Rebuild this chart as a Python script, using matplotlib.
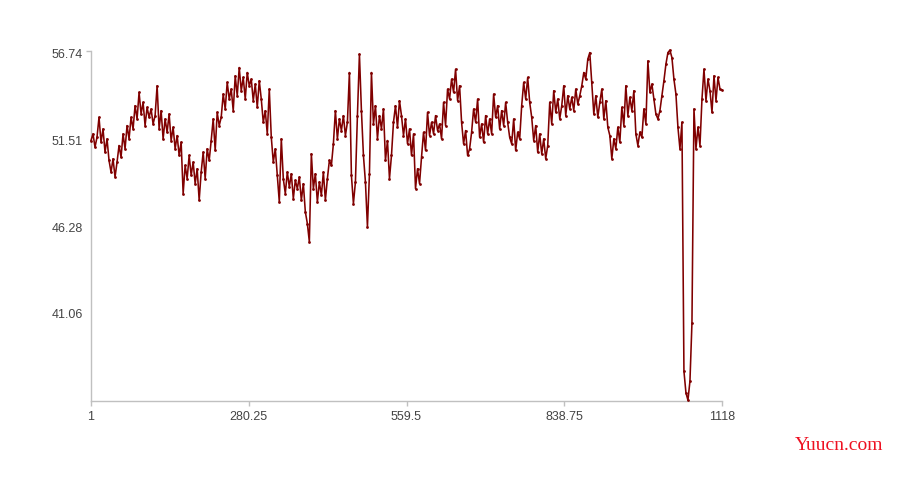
import numpy as np
import matplotlib
matplotlib.use("Agg")
import matplotlib.pyplot as plt

values = [
    51.5, 51.9, 51.1, 51.7, 52.9,
    51.4, 52.2, 50.8, 51.6, 50.3,
    49.6, 50.4, 49.3, 50.2, 51.2,
    50.5, 51.9, 51.0, 52.4, 51.6,
    52.9, 52.2, 53.6, 52.8, 54.4,
    53.1, 53.8, 52.4, 53.5, 52.9,
    53.4, 52.5, 53.0, 54.8, 52.2,
    53.3, 51.6, 52.8, 52.0, 53.1,
    51.5, 52.3, 51.0, 51.8, 50.6,
    51.4, 48.3, 50.0, 49.2, 50.6,
    49.4, 50.2, 48.9, 49.8, 47.9,
    49.6, 50.8, 49.2, 51.0, 50.3,
    51.5, 52.8, 50.9, 53.2, 52.4,
    52.9, 54.3, 53.4, 55.0, 54.0,
    54.6, 53.3, 55.4, 54.2, 55.9,
    54.5, 55.3, 54.0, 55.6, 54.8,
    55.2, 53.9, 54.9, 53.5, 55.1,
    54.0, 52.6, 53.3, 51.9, 54.6,
    51.7, 50.2, 51.0, 49.4, 47.8,
    51.6, 49.2, 48.3, 49.6, 48.7,
    49.5, 48.0, 49.1, 48.6, 49.3,
    47.9, 48.9, 47.2, 46.5, 45.4,
    50.7, 48.6, 49.5, 47.8, 49.0,
    48.2, 49.6, 47.9, 49.2, 50.3,
    50.0, 51.3, 53.3, 51.6, 52.8,
    52.1, 53.0, 51.8, 52.6, 55.6,
    49.4, 47.7, 49.0, 53.0, 56.7,
    53.3, 50.6, 49.0, 46.3, 49.5,
    55.6, 52.5, 53.6, 51.6, 53.0,
    52.2, 53.4, 50.3, 51.5, 49.2,
    50.6, 52.6, 53.6, 52.3, 53.9,
    53.0, 51.8, 52.8, 51.3, 52.2,
    50.6, 51.9, 48.6, 49.8, 48.9,
    50.5, 52.0, 50.9, 53.2, 51.8,
    52.6, 51.9, 53.0, 52.1, 52.5,
    51.6, 53.8, 52.4, 54.6, 54.0,
    55.2, 54.4, 55.8, 53.9, 54.8,
    52.6, 51.3, 52.1, 50.6, 51.0,
    52.0, 53.4, 52.6, 54.0, 51.7,
    52.5, 51.4, 53.0, 51.9, 52.8,
    51.9, 54.3, 52.9, 53.6, 52.2,
    53.3, 52.4, 53.8, 52.6, 51.7,
    51.3, 52.8, 50.9, 52.0, 51.6,
    53.6, 55.0, 54.0, 55.3, 53.8,
    52.9, 51.5, 52.4, 50.8, 51.9,
    50.7, 51.6, 50.4, 51.2, 53.8,
    52.5, 54.5, 53.2, 54.0, 52.8,
    53.6, 54.8, 53.0, 54.2, 53.4,
    54.1, 53.3, 54.6, 53.7, 54.2,
    54.8, 55.6, 55.2, 56.4, 56.8,
    55.0, 53.1, 54.2, 52.9, 53.8,
    54.6, 52.8, 53.9, 52.3, 51.8,
    50.4, 51.6, 51.0, 52.3, 51.4,
    53.5, 52.4, 54.8, 53.0, 54.1,
    53.3, 54.5, 51.9, 51.2, 52.0,
    51.7, 53.4, 52.5, 56.3, 54.4,
    54.9, 54.0, 53.1, 52.8, 53.3,
    54.2, 55.1, 56.1, 56.8, 56.95,
    56.5, 55.2, 54.3, 52.3, 51.0,
    52.6, 37.6, 36.3, 35.85, 37.0,
    40.5, 53.4, 51.0, 52.3, 51.2,
    54.0, 55.8, 53.9, 55.2, 54.5,
    53.2, 55.4, 53.9, 55.3, 54.6,
    54.55,
]
x_start, x_end = 1, 1118
y_min, y_max = 35.8325, 56.74
x_ticks = [1, 280.25, 559.5, 838.75, 1118]
x_tick_labels = ["1", "280.25", "559.5", "838.75", "1118"]
y_ticks = [41.06, 46.28, 51.51, 56.74]
y_tick_labels = ["41.06", "46.28", "51.51", "56.74"]

plt.rcParams['font.family'] = ['Liberation Sans', 'DejaVu Sans']

fig = plt.figure(figsize=(9, 5), dpi=100)
ax = fig.add_axes([91/900, 1 - 400.5/500, (722 - 91)/900, (400.5 - 50.7)/500])

xs = np.linspace(x_start, x_end, len(values))
ax.plot(xs, values, color='#800000', lw=1.15, marker='o', markersize=2.0,
        markeredgewidth=0, clip_on=False, zorder=3)

top = y_max + 2.9 / 16.585
ax.set_xlim(x_start, x_end)
ax.set_ylim(y_min, top)

ax.set_xticks(x_ticks)
ax.set_xticklabels(x_tick_labels)
ax.set_yticks(y_ticks)
ax.set_yticklabels(y_tick_labels)
ax.set_yticks([top], minor=True)

for s in ['top', 'right']:
    ax.spines[s].set_visible(False)
for s in ['left', 'bottom']:
    ax.spines[s].set_color('#c0c0c0')
    ax.spines[s].set_linewidth(1.0)

ax.tick_params(axis='x', length=3.5, width=1, color='#c0c0c0', pad=4,
               labelsize=9, labelcolor='#444444')
ax.tick_params(axis='y', which='major', length=0, pad=6,
               labelsize=9, labelcolor='#444444')
ax.tick_params(axis='y', which='minor', length=3.5, width=1, color='#c0c0c0')

fig.text(839/900, 1 - 445/500, "Yuucn.com", color='#ee1122', fontsize=14,
         family=['Liberation Serif', 'DejaVu Serif'], ha='center', va='center')

fig.savefig("out.png", dpi=100)
